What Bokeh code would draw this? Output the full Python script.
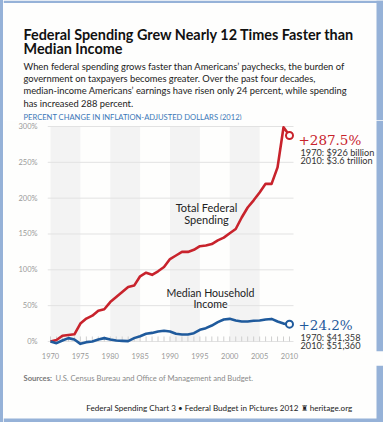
from bokeh.plotting import figure
from bokeh.layouts import column, row
from bokeh.models import Label, Range1d, FixedTicker, BoxAnnotation, Spacer
from bokeh.embed import file_html
from bokeh.resources import INLINE

# ---------------- data ----------------
years = list(range(1970, 2011))
spending = [0, 2, 8, 9, 10, 25, 32, 36, 43, 45, 55, 62, 69, 76, 78, 91, 96, 93, 98, 104,
            115, 120, 125, 125, 128, 133, 134, 136, 141, 145, 151, 157, 173, 187, 197, 208,
            220, 220, 243, 299, 287.5]
income = [0, -2.3, 1.4, 4.7, 2.8, -3.3, -0.9, 0, 2.8, 4.7, 2.8, 1.4, 0.9, 0.5, 4.7, 7.4,
          10.7, 12, 14, 14.9, 14, 10.7, 9.8, 9.8, 11.6, 16.3, 18.6, 22.3, 27, 30.7, 31.6,
          29.3, 27.9, 27.9, 28.9, 29.3, 30.7, 31.5, 28, 25, 24.2]
x_ticks = [1970, 1975, 1980, 1985, 1990, 1995, 2000, 2005, 2010]
x_tick_labels = ["1970", "1975", "1980", "1985", "1990", "1995", "2000", "2005", "2010"]
y_ticks = [0, 50, 100, 150, 200, 250, 300]
y_tick_labels = ["0%", "50%", "100%", "150%", "200%", "250%", "300%"]
band_starts = [1970, 1980, 1990, 2000]
band_width = 5

RED = "#c8232c"
BLUE = "#1f5a9c"
EDGE = "#96b2d8"
BG = "#fefefd"
FONT = "Lato"

OX = 3                 # left card border
CW = 383 - OX          # content width
H1, H2 = 120, 245      # header / chart heights
H3 = 422 - H1 - H2     # footer height


def text_fig(y0, h):
    f = figure(width=CW, height=h, output_backend="svg", toolbar_location=None,
               x_range=Range1d(OX, 383), y_range=Range1d(y0 + h, y0),
               x_axis_type=None, y_axis_type=None, frame_align=False,
               min_border=0, min_border_left=0, min_border_right=0,
               min_border_top=0, min_border_bottom=0)
    f.background_fill_color = BG
    f.border_fill_color = BG
    f.outline_line_color = None
    f.grid.visible = False
    f.add_layout(BoxAnnotation(left=376, fill_color=EDGE, line_color=None, fill_alpha=1))
    return f


def lab(f, text, x, y, size, color="#222222", font=FONT, style="normal",
        align="left", baseline="alphabetic", lh=1.2):
    f.add_layout(Label(x=x, y=y, text=text, text_font=font, text_font_size=size,
                       text_color=color, text_font_style=style, text_align=align,
                       text_baseline=baseline, text_line_height=lh))


# ---------------- header ----------------
top = text_fig(0, H1)
top.add_layout(BoxAnnotation(bottom=2.5, fill_color=EDGE, line_color=None, fill_alpha=1))
lab(top, "Federal Spending Grew Nearly 12 Times Faster than", 23, 34, "14.4px", "#111111", style="bold")
lab(top, "Median Income", 23, 48, "14.4px", "#111111", style="bold")
sub = ["When federal spending grows faster than Americans\u2019 paychecks, the burden of",
       "government on taxpayers becomes greater. Over the past four decades,",
       "median-income Americans\u2019 earnings have risen only 24 percent, while spending",
       "has increased 288 percent."]
for i, s in enumerate(sub):
    lab(top, s, 23, 66 + i * 12.2, "9.35px", "#222222")
lab(top, "PERCENT CHANGE IN INFLATION-ADJUSTED DOLLARS (2012)", 23, 116, "7.6px", "#3b78b8")

# ---------------- chart ----------------
PX_YR = 5.975
PX_PCT = 0.7167
FRAME_L = 47           # page px
FRAME_B = 351          # page px
X0 = 1970 - (50 - FRAME_L) / PX_YR
X1 = X0 + (383 - FRAME_L) / PX_YR
Y0 = -(FRAME_B - 341) / PX_PCT
Y1 = Y0 + (FRAME_B - H1) / PX_PCT


def dx(px):
    return 1970 + (px - 50) / PX_YR


def dy(py):
    return (341 - py) / PX_PCT


p = figure(width=CW, height=H2, output_backend="svg", toolbar_location=None,
           x_range=Range1d(X0, X1), y_range=Range1d(Y0, Y1), frame_align=False,
           min_border_left=FRAME_L - OX, min_border_right=0,
           min_border_top=0, min_border_bottom=H1 + H2 - FRAME_B)
p.background_fill_color = BG
p.border_fill_color = BG
p.outline_line_color = None

xa = p.xaxis[0]
xa.ticker = FixedTicker(ticks=x_ticks)
xa.major_label_overrides = {t: l for t, l in zip(x_ticks, x_tick_labels)}
xa.axis_line_color = None
xa.major_tick_line_color = None
xa.minor_tick_line_color = None
xa.major_tick_out = 0
xa.major_tick_in = 0
xa.major_label_text_font = FONT
xa.major_label_text_font_size = "7.5px"
xa.major_label_text_color = "#9a9a9a"
xa.major_label_standoff = 1

ya = p.yaxis[0]
ya.ticker = FixedTicker(ticks=y_ticks)
ya.major_label_overrides = {t: l for t, l in zip(y_ticks, y_tick_labels)}
ya.axis_line_color = None
ya.major_tick_line_color = None
ya.minor_tick_line_color = None
ya.major_label_text_font = FONT
ya.major_label_text_font_size = "7.5px"
ya.major_label_text_color = "#9a9a9a"
ya.major_label_standoff = 4

p.grid.visible = False

# alternating bands
p.quad(left=band_starts, right=[b + band_width for b in band_starts],
       bottom=0, top=300, fill_color="#f3f3f3", line_color=None)
# horizontal gridlines (stop at the end of the data area)
p.segment(x0=X0, x1=dx(293), y0=y_ticks, y1=y_ticks, line_color="#e2e2e2", line_width=1)
# yearly ticks on the zero line
p.segment(x0=years, y0=0, x1=years, y1=7, line_color="#cfcfcf", line_width=1)

p.line(years, spending, line_color=RED, line_width=2.6, line_join="round")
p.line(years, income, line_color=BLUE, line_width=2.6, line_join="round")
p.scatter(years[-1:], spending[-1:], size=7, marker="circle", fill_color="white",
          line_color=RED, line_width=2)
p.scatter(years[-1:], income[-1:], size=7, marker="circle", fill_color="white",
          line_color=BLUE, line_width=2)

lab(p, "Total Federal\nSpending", dx(206), dy(213), "11px", "#222222", align="center",
    baseline="middle", lh=0.95)
lab(p, "Median Household\nIncome", dx(210), dy(298), "10.6px", "#222222", align="center",
    baseline="middle", lh=0.98)

lab(p, "+287.5%", dx(298), dy(139.5), "13.5px", RED, font="DejaVu Serif")
lab(p, "1970: $926 billion", dx(300), dy(152.3), "9.2px", "#333333")
lab(p, "2010: $3.6 trillion", dx(300), dy(160), "9.2px", "#333333")
lab(p, "+24.2%", dx(298), dy(324.5), "13.5px", BLUE, font="DejaVu Serif")
lab(p, "1970: $41,358", dx(300), dy(337.3), "9.2px", "#333333")
lab(p, "2010: $51,360", dx(300), dy(345), "9.2px", "#333333")

p.add_layout(BoxAnnotation(left=dx(376), fill_color=EDGE, line_color=None, fill_alpha=1))

# ---------------- footer ----------------
bot = text_fig(H1 + H2, H3)
bot.add_layout(BoxAnnotation(top=418, fill_color=EDGE, line_color=None, fill_alpha=1))
lab(bot, "Sources:", 23, 377, "7.6px", "#777777", style="bold")
lab(bot, "U.S. Census Bureau and Office of Management and Budget.", 55, 377, "7.6px", "#8a8a8a")
lab(bot, "Federal Spending Chart 3  \u2022  Federal Budget in Pictures 2012  \u265c  heritage.org",
    360, 407, "8.1px", "#222222", align="right")

left_edge = Spacer(width=OX, height=422, styles={"background-color": EDGE})
layout = row(left_edge, column(top, p, bot, spacing=0), spacing=0)

open("out.html", "w").write(file_html(layout, INLINE))
